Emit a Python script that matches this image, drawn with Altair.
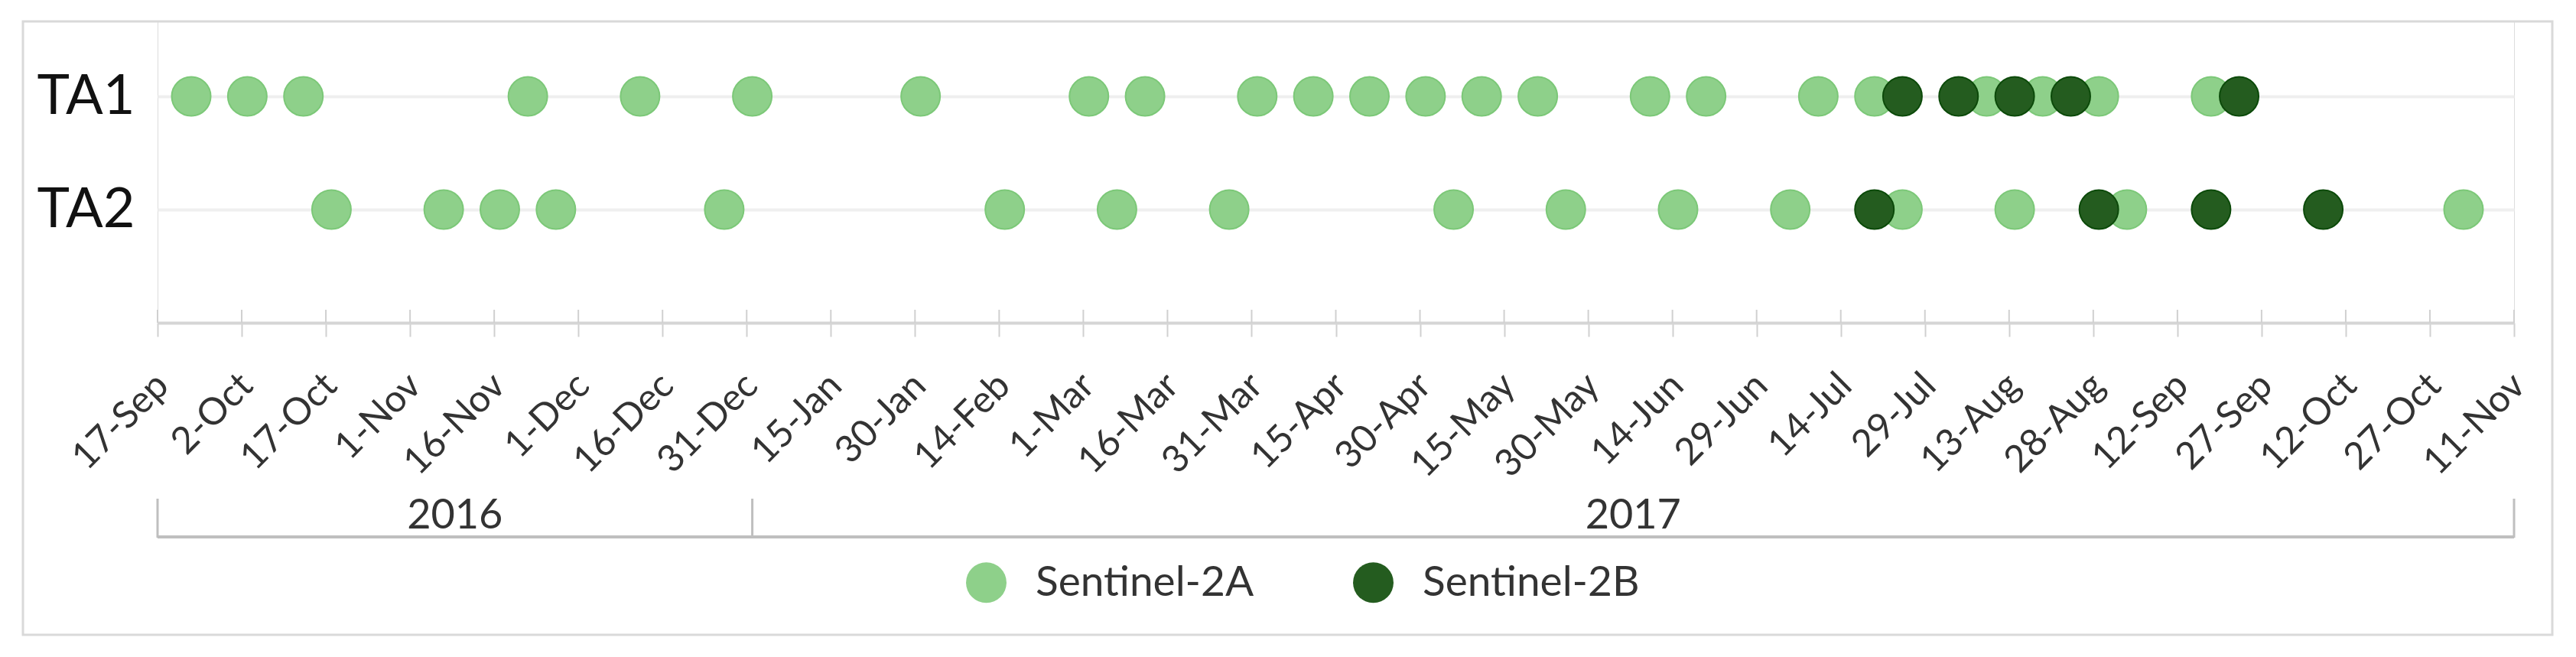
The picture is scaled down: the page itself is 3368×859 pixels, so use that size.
import altair as alt
import pandas as pd

# ---- data ----
sites = ["TA1", "TA2"]
satellites = ["Sentinel-2A", "Sentinel-2B"]

ta1_s2a = ["2016-09-23", "2016-10-03", "2016-10-13", "2016-11-22", "2016-12-12",
           "2017-01-01", "2017-01-31", "2017-03-02", "2017-03-12", "2017-04-01",
           "2017-04-11", "2017-04-21", "2017-05-01", "2017-05-11", "2017-05-21",
           "2017-06-10", "2017-06-20", "2017-07-10", "2017-07-20", "2017-08-09",
           "2017-08-19", "2017-08-29", "2017-09-18"]
ta1_s2b = ["2017-07-25", "2017-08-04", "2017-08-14", "2017-08-24", "2017-09-23"]

ta2_s2a = ["2016-10-18", "2016-11-07", "2016-11-17", "2016-11-27", "2016-12-27",
           "2017-02-15", "2017-03-07", "2017-03-27", "2017-05-06", "2017-05-26",
           "2017-06-15", "2017-07-05", "2017-07-25", "2017-08-14", "2017-09-03",
           "2017-11-02"]
ta2_s2b = ["2017-07-20", "2017-08-29", "2017-09-18", "2017-10-08"]

tick_dates = ["2016-09-17", "2016-10-02", "2016-10-17", "2016-11-01", "2016-11-16",
              "2016-12-01", "2016-12-16", "2016-12-31", "2017-01-15", "2017-01-30",
              "2017-02-14", "2017-03-01", "2017-03-16", "2017-03-31", "2017-04-15",
              "2017-04-30", "2017-05-15", "2017-05-30", "2017-06-14", "2017-06-29",
              "2017-07-14", "2017-07-29", "2017-08-13", "2017-08-28", "2017-09-12",
              "2017-09-27", "2017-10-12", "2017-10-27", "2017-11-11"]

year_labels = ["2016", "2017"]
year_bounds = ["2016-09-17", "2017-01-01", "2017-11-11"]

# ---- tables ----
def loc(d):
    return d + "T00:00:00"

rows = []
for site, s2a in zip(sites, [ta1_s2a, ta2_s2a]):
    rows += [{"date": loc(d), "site": site, "sat": satellites[0]} for d in s2a]
for site, s2b in zip(sites, [ta1_s2b, ta2_s2b]):
    rows += [{"date": loc(d), "site": site, "sat": satellites[1]} for d in s2b]
obs = pd.DataFrame(rows)

ticks_df = pd.DataFrame({"date": [loc(d) for d in tick_dates]})
bounds_df = pd.DataFrame({"date": [loc(d) for d in year_bounds]})
bt = pd.to_datetime(year_bounds)
mids = [(bt[i] + (bt[i + 1] - bt[i]) / 2).strftime("%Y-%m-%dT%H:%M:%S") for i in range(len(year_labels))]
years_df = pd.DataFrame({"date": mids, "label": year_labels})
span_df = pd.DataFrame({"date": [loc(year_bounds[0])], "date_end": [loc(year_bounds[-1])]})
frame_df = pd.DataFrame({"k": [0]})


def dt(s):
    y, m, d = (int(v) for v in s.split("-"))
    return alt.DateTime(year=y, month=m, date=d)


W, H = 3081, 394
FONT = "Lato"
x_scale = alt.Scale(domain=[dt(tick_dates[0]), dt(tick_dates[-1])], nice=False)
x_axis = alt.Axis(
    values=[dt(d) for d in tick_dates], format="%-d-%b", formatType="time",
    labelAngle=-45, labelAlign="right", labelBaseline="middle",
    labelFont=FONT, labelFontSize=49, labelColor="#333333",
    labelPadding=56, labelOffset=6, labelOverlap=False, labelFlush=False, labelBound=False,
    tickSize=18, tickColor="#D0D0D0", tickWidth=2,
    domainColor="#D5D5D5", domainWidth=4, grid=False, title=None,
)

points = alt.Chart(obs).mark_point(filled=True, opacity=1, size=2600, strokeWidth=2).encode(
    x=alt.X("date:T", scale=x_scale, axis=x_axis),
    y=alt.Y("site:N", scale=alt.Scale(domain=sites, range=[98, 246], padding=0),
            axis=alt.Axis(title=None, domain=False, ticks=False, labelFont=FONT,
                          labelFontSize=72, labelColor="#111111", labelPadding=30,
                          grid=True, gridColor="#EFEFEF", gridWidth=4)),
    fill=alt.Fill("sat:N", scale=alt.Scale(domain=satellites, range=["#8ED08A", "#245C1F"]),
                  legend=alt.Legend(title=None, orient="none", direction="horizontal",
                                    legendX=1056, legendY=706, labelFont=FONT,
                                    labelFontSize=55, labelColor="#333333", labelLimit=1000,
                                    symbolSize=2800, symbolType="circle",
                                    labelOffset=37, columnPadding=128, padding=0,
                                    symbolStrokeWidth=0)),
    stroke=alt.Stroke("sat:N", scale=alt.Scale(domain=satellites, range=["#7CC878", "#0C4A0A"]),
                      legend=None),
)

tick_up = alt.Chart(ticks_df).mark_rule(color="#D0D0D0", strokeWidth=2).encode(
    x=alt.X("date:T", title=None), y=alt.value(H - 17), y2=alt.value(H)
)

bracket_v = alt.Chart(bounds_df).mark_rule(color="#BFBFBF", strokeWidth=3).encode(
    x=alt.X("date:T", title=None), y=alt.value(624), y2=alt.value(675)
)
bracket_h = alt.Chart(span_df).mark_rule(color="#BFBFBF", strokeWidth=4).encode(
    x=alt.X("date:T", title=None), x2="date_end:T", y=alt.value(674)
)
year_text = alt.Chart(years_df).mark_text(font=FONT, fontSize=54, color="#333333",
                                          baseline="middle").encode(
    x=alt.X("date:T", title=None), y=alt.value(647), text="label:N"
)

frame = alt.Chart(frame_df).mark_rect(fillOpacity=0, stroke="#D9D9D9", strokeWidth=3).encode(
    x=alt.value(-176), x2=alt.value(3131), y=alt.value(0), y2=alt.value(802)
)

chart = alt.layer(frame, tick_up, bracket_v, bracket_h, year_text, points).properties(
    width=W, height=H,
    autosize=alt.AutoSizeParams(type="none"),
    padding={"left": 198, "top": 20, "right": 70, "bottom": 420},
).configure_view(stroke=None).configure(background="white")

chart.save("out.html", embed_options={"renderer": "svg", "actions": False})
